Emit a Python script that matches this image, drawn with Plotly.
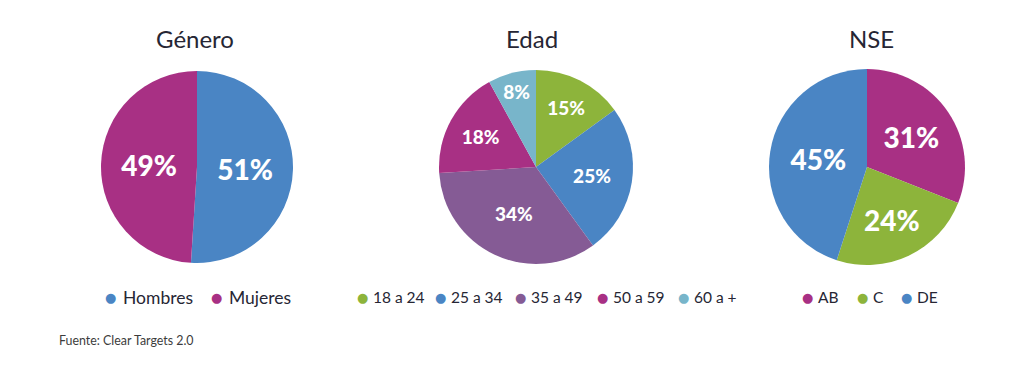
import plotly.graph_objects as go

# ---- data ----
genero_labels = ["Hombres", "Mujeres"]
genero_values = [51, 49]
edad_labels = ["18 a 24", "25 a 34", "35 a 49", "50 a 59", "60 a +"]
edad_values = [15, 25, 34, 18, 8]
nse_labels = ["AB", "C", "DE"]
nse_values = [31, 24, 45]
titles = ["Género", "Edad", "NSE"]
source = "Fuente: Clear Targets 2.0"

# ---- styles ----
BLUE = "#4a85c4"
MAGENTA = "#a83084"
GREEN = "#8db43b"
PURPLE = "#855b95"
LIGHTBLUE = "#78b5ca"
genero_colors = [BLUE, MAGENTA]
edad_colors = [GREEN, BLUE, PURPLE, MAGENTA, LIGHTBLUE]
nse_colors = [MAGENTA, GREEN, BLUE]

W, H = 1024, 370
TEXT = "#262634"
FONT = "Lato"

# pie geometry in pixels: (center x, center y, radius)
pies = [(197, 167, 96), (536, 167, 97), (867, 167, 98)]
label_sizes = [28, 19, 28]

fig = go.Figure()
series = [(genero_labels, genero_values, genero_colors),
          (edad_labels, edad_values, edad_colors),
          (nse_labels, nse_values, nse_colors)]
for (labels, values, colors), (cx, cy, r), fs in zip(series, pies, label_sizes):
    fig.add_trace(go.Pie(
        labels=labels, values=values, sort=False, direction="clockwise", rotation=0,
        marker=dict(colors=colors, line=dict(width=0)),
        texttemplate="%{value}%", textposition="inside",
        insidetextorientation="horizontal",
        textfont=dict(family=FONT, size=fs, color="white", weight=900),
        hoverinfo="label+percent", showlegend=False,
        domain=dict(x=[(cx - r) / W, (cx + r) / W], y=[(H - cy - r) / H, (H - cy + r) / H]),
    ))

annotations = []
title_x = [195, 532, 871]
for t, x in zip(titles, title_x):
    annotations.append(dict(text=t, x=x / W, y=1 - 38 / H, xref="paper", yref="paper",
                            xanchor="center", yanchor="middle", showarrow=False,
                            font=dict(family=FONT, size=24, color=TEXT)))

# legend items: dot x positions (px), gap dot->text, font size
legend_dot_x = [[110, 216], [362, 440, 520, 602, 683], [807, 862, 906]]
legend_gap = [11, 9, 9]
legend_font = [17.5, 15.5, 15.5]
for (labels, values, colors), dxs, gap, fs in zip(series, legend_dot_x, legend_gap, legend_font):
    for lab, col, dx in zip(labels, colors, dxs):
        annotations.append(dict(text="●", x=dx / W, y=1 - 297 / H, xref="paper", yref="paper",
                                xanchor="center", yanchor="middle", showarrow=False,
                                font=dict(family="DejaVu Sans", size=13, color=col)))
        annotations.append(dict(text=lab, x=(dx + gap) / W, y=1 - 297 / H, xref="paper", yref="paper",
                                xanchor="left", yanchor="middle", showarrow=False,
                                font=dict(family=FONT, size=fs, color=TEXT)))

annotations.append(dict(text=source, x=57 / W, y=1 - 340 / H, xref="paper", yref="paper",
                        xanchor="left", yanchor="middle", showarrow=False,
                        font=dict(family=FONT, size=12.4, color="#3c3c3c")))

fig.update_layout(width=W, height=H, margin=dict(l=0, r=0, t=0, b=0),
                  paper_bgcolor="white", plot_bgcolor="white",
                  annotations=annotations, showlegend=False)

fig.write_html("out.html", config={"displayModeBar": False},
               post_script="document.body.style.margin='0';")
